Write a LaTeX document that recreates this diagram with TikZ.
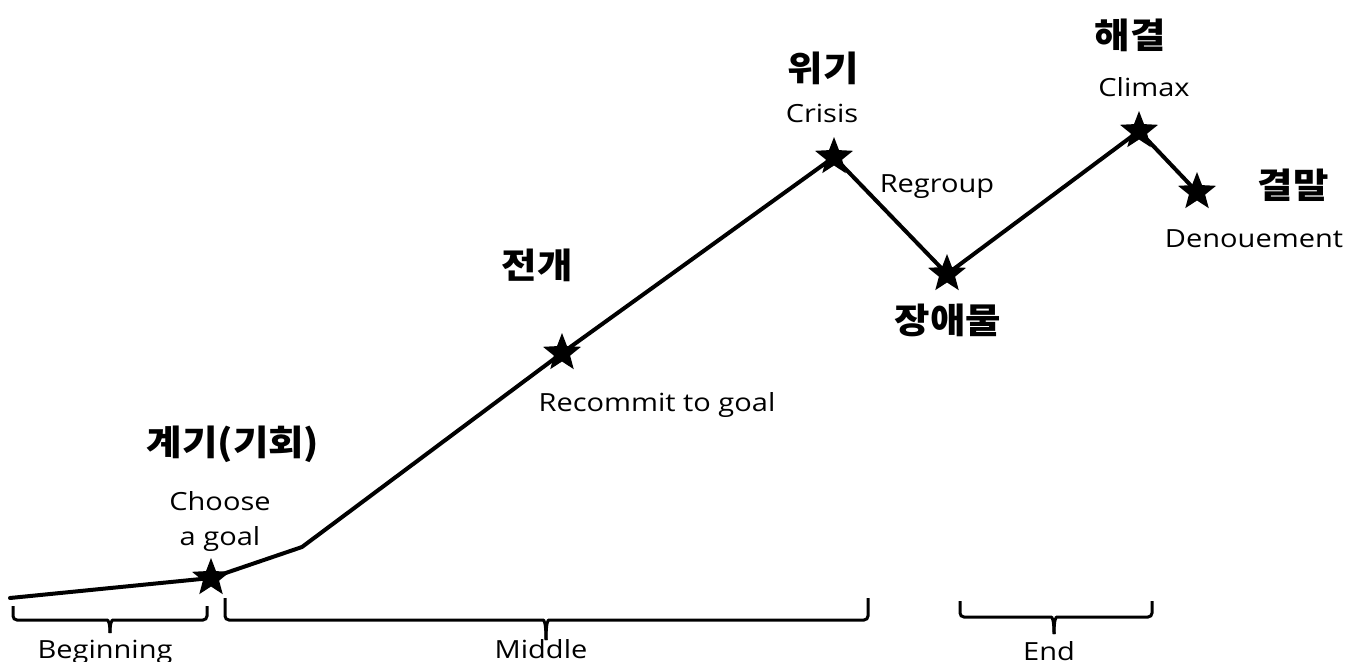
\documentclass[tikz,border=0pt]{standalone}
\usepackage{fontspec}
\setmainfont{Open Sans}[FakeStretch=1.16]
\newfontfamily\kr{Noto Sans CJK KR}[FakeStretch=1.1]
\usetikzlibrary{shapes.geometric,backgrounds}
\tikzset{
  starnode/.style={star, star points=5, star point ratio=2.35, fill=black, draw=none, minimum size=40pt, inner sep=0pt},
  en/.style={font=\fontsize{25}{35}\selectfont, inner sep=0pt, align=center},
  ko/.style={font=\kr\bfseries\fontsize{35}{38}\selectfont, inner sep=0pt},
  plot/.style={line width=4pt, line join=round, line cap=round},
  brace/.style={line width=3pt, rounded corners=4pt}
}
\begin{document}
\begin{tikzpicture}[x=1pt,y=-1pt]
\useasboundingbox (0,0) rectangle (1348,661);
% stars
\node[starnode] (s1) at (211,578) {};
\node[starnode] (s2) at (562,353) {};
\node[starnode] (s3) at (834,157) {};
\node[starnode] (s4) at (947,274) {};
\node[starnode] (s5) at (1139,131) {};
\node[starnode] (s6) at (1197,192) {};
\coordinate (p0) at (10,598);
\coordinate (bend) at (302,547);
\begin{scope}[on background layer]
\draw[plot] (p0) -- (s1.center) -- (bend) -- (s2.center) -- (s3.center) -- (s4.center) -- (s5.center) -- (s6.center);
\end{scope}
% labels
\node[ko] (k1) at (233,444) {계기(기회)};
\node[en] (e1) at (220,521) {Choose\\a goal};
\node[ko] (k2) at (537,265) {전개};
\node[en] (e2) at (657,405) {Recommit to goal};
\node[ko] (k3) at (823,68) {위기};
\node[en] (e3) at (822,113) {Crisis};
\node[en] (e4) at (937,187) {Regroup};
\node[ko] (k4) at (948,320) {장애물};
\node[ko] (k5) at (1130,35) {해결};
\node[en] (e5) at (1144,87) {Climax};
\node[ko] (k6) at (1293,185) {결말};
\node[en] (e6) at (1254,239) {Denouement};
% braces
\coordinate (b1l) at (13,606); \coordinate (b1r) at (207,606); \coordinate (b1c) at (110,633);
\draw[brace] (b1l) -- (13,620) -- (103,620) .. controls (108,620) and (110,622) .. (b1c);
\draw[brace] (b1r) -- (207,620) -- (117,620) .. controls (112,620) and (110,622) .. (b1c);
\node[en, anchor=base] (l1) at (105,658) {Beginning};
\coordinate (b2l) at (225,598); \coordinate (b2r) at (868,598); \coordinate (b2c) at (546,640);
\draw[brace] (b2l) -- (225,620) -- (539,620) .. controls (544,620) and (546,622) .. (b2c);
\draw[brace] (b2r) -- (868,620) -- (553,620) .. controls (548,620) and (546,622) .. (b2c);
\node[en, anchor=base] (l2) at (541,658) {Middle};
\coordinate (b3l) at (960,601); \coordinate (b3r) at (1152,601); \coordinate (b3c) at (1054,634);
\draw[brace] (b3l) -- (960,617) -- (1047,617) .. controls (1052,617) and (1054,619) .. (b3c);
\draw[brace] (b3r) -- (1152,617) -- (1061,617) .. controls (1056,617) and (1054,619) .. (b3c);
\node[en, anchor=base] (l3) at (1049,660) {End};
\end{tikzpicture}
\end{document}
